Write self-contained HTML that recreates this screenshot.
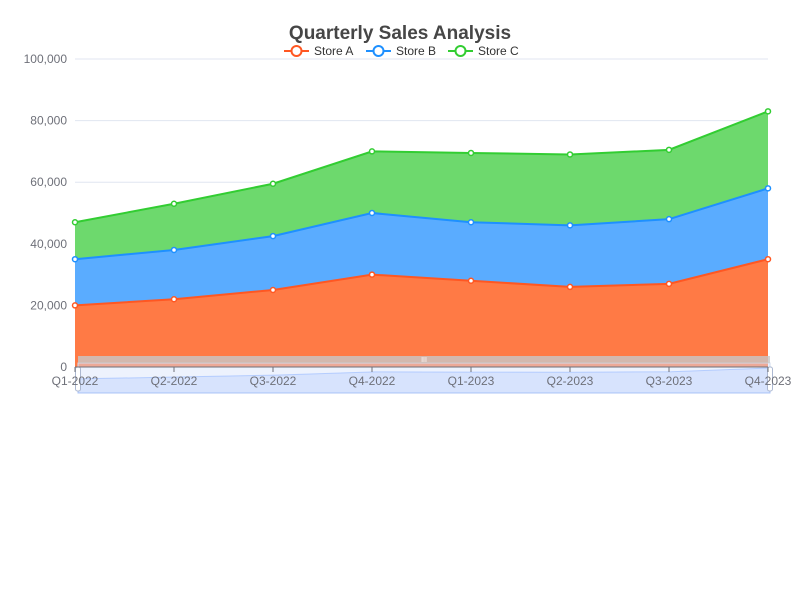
<!DOCTYPE html>
<html><head><meta charset="utf-8"><style>
body{margin:0;background:#fff;}
svg{display:block;font-family:"Liberation Sans",sans-serif;}
</style></head><body>
<svg id="chart" width="800" height="600" viewBox="0 0 800 600">
<text x="400" y="39" text-anchor="middle" font-size="19" font-weight="bold" fill="#464646">Quarterly Sales Analysis</text>
<g id="legend"></g>
<g id="grid"></g>
<g id="areas"></g>
<g id="zoom"></g>
<g id="xaxis"></g>
</svg>
<script>
const categories=["Q1-2022","Q2-2022","Q3-2022","Q4-2022","Q1-2023","Q2-2023","Q3-2023","Q4-2023"];
const storeA=[20000,22000,25000,30000,28000,26000,27000,35000];
const storeB=[15000,16000,17500,20000,19000,20000,21000,23000];
const storeC=[12000,15000,17000,20000,22500,23000,22500,25000];
const yTicks=[0,20000,40000,60000,80000,100000];
const seriesNames=["Store A","Store B","Store C"];
const NS="http://www.w3.org/2000/svg";
function mk(tag,attrs,parent){const e=document.createElementNS(NS,tag);for(const k in attrs)e.setAttribute(k,attrs[k]);parent.appendChild(e);return e;}
const X0=75,X1=768,Y0=367,Y1=59,YMAX=100000;
const xs=i=>X0+i*(X1-X0)/(categories.length-1);
const ys=v=>Y0-(v/YMAX)*(Y0-Y1);
const colors=["#ff5722","#1e90ff","#32cd32"];
const fills=["#ff7a45","#5aacff","#6dd96d"];
const grid=document.getElementById('grid');
yTicks.forEach(t=>{
 if(t>0){const l=mk('line',{x1:X0,x2:X1,y1:ys(t),y2:ys(t),stroke:'#e0e6f1'},grid);
 }
 const tx=mk('text',{x:67,y:ys(t)+4,'text-anchor':'end','font-size':12,fill:'#6e7079'},grid);
 tx.textContent=t.toLocaleString('en-US');
 
});
const data=[storeA,storeB,storeC];
let base=categories.map(()=>0);
const areas=document.getElementById('areas');
const tops=[];
data.forEach((s,k)=>{
 const top=s.map((v,i)=>base[i]+v);
 let d='M'+categories.map((c,i)=>xs(i)+','+ys(top[i])).join('L');
 for(let i=categories.length-1;i>=0;i--)d+='L'+xs(i)+','+ys(base[i]);
 const a=mk('path',{d:d+'Z',fill:fills[k]},areas);
 
 tops.push(top);base=top;
});
tops.forEach((top,k)=>{
 const l=mk('polyline',{points:categories.map((c,i)=>xs(i)+','+ys(top[i])).join(' '),fill:'none',stroke:colors[k],'stroke-width':2},areas);
 
 top.forEach((v,i)=>{const p=mk('circle',{cx:xs(i),cy:ys(v),r:2.5,fill:'#fff',stroke:colors[k],'stroke-width':1.5},areas);
 });
});
const z=document.getElementById('zoom');
const zb=mk('rect',{x:78,y:363,width:692,height:30,fill:'rgba(215,226,250,0.45)',stroke:'#d2dbee'},z);

const sh=mk('path',{d:'M78,389 L'+categories.map((c,i)=>(78+i*692/7)+','+(393-(storeA[i]+storeB[i]+storeC[i])/83000*25)).join(' L')+' L770,393 L78,393Z',fill:'rgba(135,175,255,0.22)',stroke:'rgba(135,175,255,0.5)','stroke-width':1},z);

const mh=mk('rect',{x:78,y:356,width:692,height:7,fill:'rgba(200,200,200,0.8)'},z);

const grip=mk('text',{x:424,y:362,'text-anchor':'middle','font-size':7,fill:'#fff'},z);grip.textContent='III';

[78,770].forEach(hx=>{const h=mk('rect',{x:hx-2.5,y:367,width:5,height:24,rx:2,fill:'#fff',stroke:'#acb8d1'},z);
 });
const xa=document.getElementById('xaxis');
const ax=mk('line',{x1:X0,x2:X1,y1:Y0,y2:Y0,stroke:'#6e7079'},xa);

categories.forEach((c,i)=>{
 const t=mk('line',{x1:xs(i),x2:xs(i),y1:Y0,y2:Y0+5,stroke:'#6e7079'},xa);
 
 const tx=mk('text',{x:xs(i),y:Y0+18,'text-anchor':'middle','font-size':12,fill:'#6e7079'},xa);
 tx.textContent=c;
});
const lg=document.getElementById('legend');
const lx=[284,366,448];
seriesNames.forEach((n,k)=>{
 const g=mk('g',{},lg);
 mk('line',{x1:lx[k],x2:lx[k]+25,y1:51,y2:51,stroke:colors[k],'stroke-width':2},g);
 mk('circle',{cx:lx[k]+12.5,cy:51,r:5,fill:'#fff',stroke:colors[k],'stroke-width':2},g);
 const t=mk('text',{x:lx[k]+30,y:55,'font-size':12,fill:'#333'},g);t.textContent=n;
});
</script>
</body></html>
